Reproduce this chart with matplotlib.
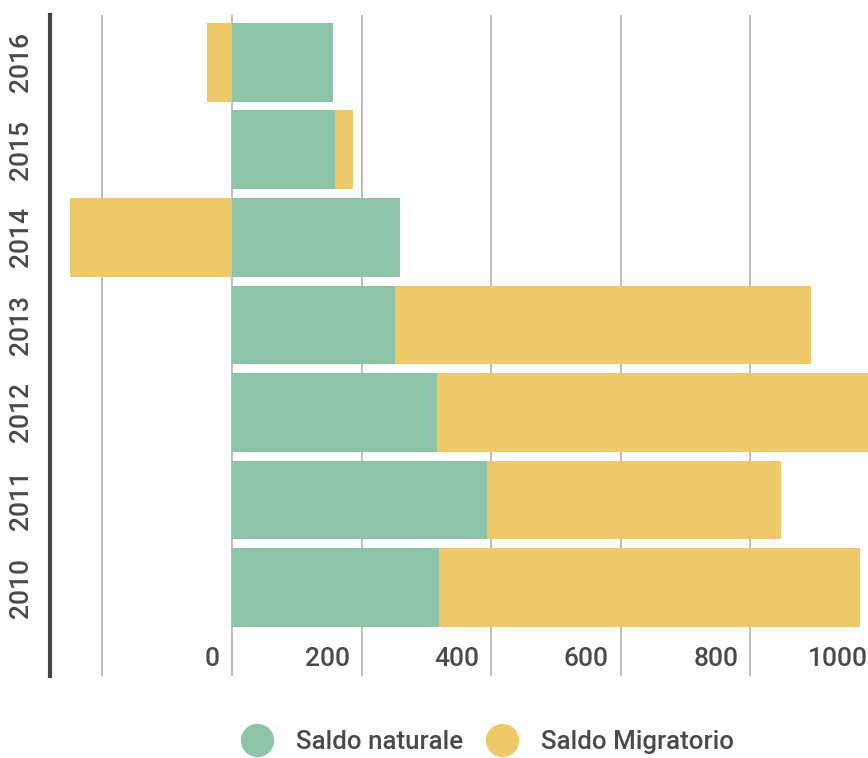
import matplotlib.pyplot as plt
from matplotlib.lines import Line2D
import matplotlib.transforms as mtransforms

# Saldo naturale / migratorio per anno
years = ['2010', '2011', '2012', '2013', '2014', '2015', '2016']
saldo_naturale = [320, 394, 317, 252, 259, 159, 156]
saldo_migratorio = [650, 453, 700, 642, -250, 28, -39]
x_ticks = [0, 200, 400, 600, 800, 1000]

green = '#8dc4a7'
yellow = '#eec96a'
text_color = '#4a4a4a'

plt.rcParams['font.family'] = ['Roboto', 'DejaVu Sans']
plt.rcParams['font.weight'] = 'medium'

fig = plt.figure(figsize=(8.68, 7.58), dpi=100)
ax = fig.add_axes([50 / 868, 1 - 676 / 758, 1 - 50 / 868, (676 - 15) / 758])

pos = list(range(len(years)))
ax.barh(pos, saldo_naturale, height=0.9, color=green, zorder=2)
# migratorio goes after naturale when positive, left from zero when negative
lefts = [n if m > 0 else 0 for n, m in zip(saldo_naturale, saldo_migratorio)]
ax.barh(pos, saldo_migratorio, left=lefts, height=0.9, color=yellow, zorder=2)

ax.set_xlim(-281, 982)
ax.set_ylim(-1.01, 6.54)

# vertical grid lines
for v in [-200] + x_ticks:
    ax.axvline(v, color='#b8b8b8', lw=1.3, zorder=1)

ax.set_xticks([])
ax.set_yticks(pos)
ax.set_yticklabels(years, rotation=90, va='center', fontsize=19,
                   color=text_color, fontweight='medium')
ax.tick_params(axis='y', length=0, pad=12)

# x labels sit inside the plot, to the left of each grid line
off = mtransforms.ScaledTranslation(-12 / 100, 0, fig.dpi_scale_trans)
trans = mtransforms.blended_transform_factory(ax.transData, ax.transAxes) + off
for v in x_ticks:
    ax.text(v, (676 - 659) / (676 - 15), str(v), transform=trans, ha='right',
            va='center', fontsize=19, color=text_color, fontweight='medium')

for s in ['top', 'right', 'bottom']:
    ax.spines[s].set_visible(False)
ax.spines['left'].set_color('#444444')
ax.spines['left'].set_linewidth(3)

handles = [Line2D([], [], marker='o', ls='', color=green, markersize=23),
           Line2D([], [], marker='o', ls='', color=yellow, markersize=23)]
fig.legend(handles, ['Saldo naturale', 'Saldo Migratorio'], ncol=2, frameon=False,
           loc='center', bbox_to_anchor=(0.556, 0.021),
           prop={'size': 18.6, 'weight': 'medium'},
           labelcolor=text_color, handletextpad=0.5, columnspacing=0.5)

fig.savefig('out.png', dpi=100)
